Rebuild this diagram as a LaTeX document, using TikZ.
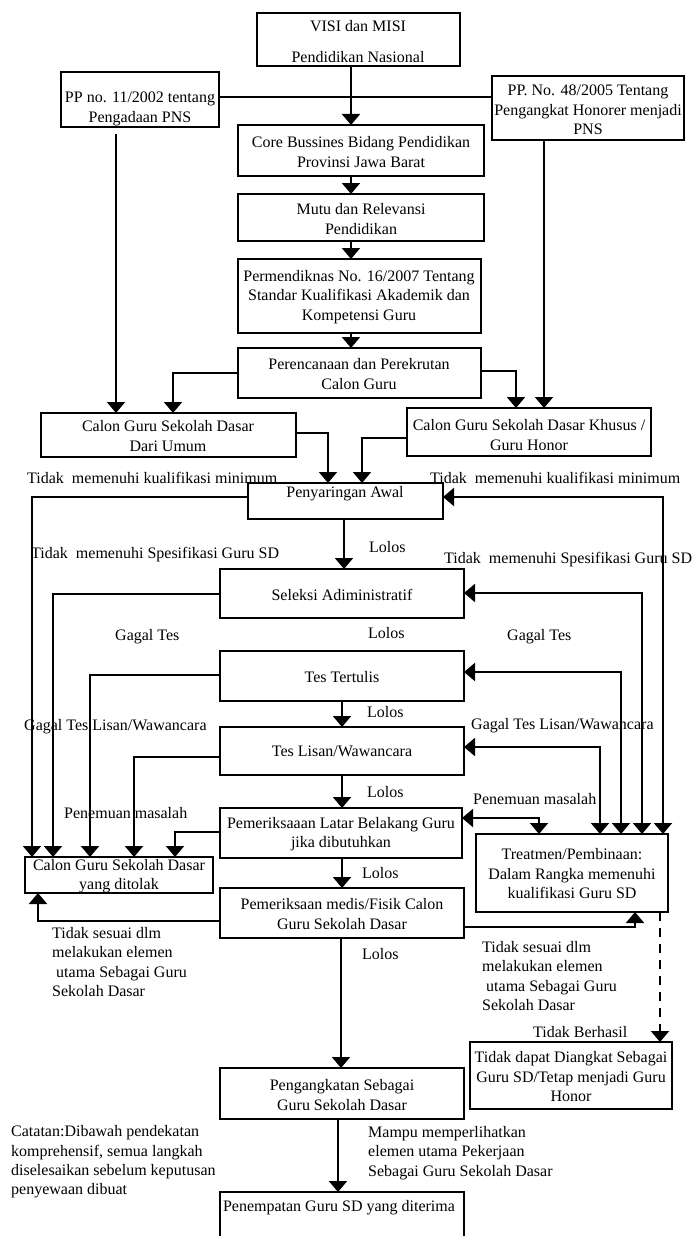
\documentclass[tikz,border=0pt]{standalone}
\usepackage{fontspec}
\setmainfont{Liberation Serif}
\usetikzlibrary{arrows.meta}
\begin{document}
\begin{tikzpicture}[x=1pt,y=-1pt,
  box/.style={draw, line width=2pt, inner sep=0pt, outer sep=0pt, anchor=north west},
  txt/.style={inner sep=0pt, align=center, font=\fontsize{16}{19.5}\selectfont},
  lbl/.style={inner sep=0pt, anchor=west, align=left, font=\fontsize{16}{19.3}\selectfont},
  con/.style={line width=2pt},
  arr/.style={con, -{Triangle[width=18pt,length=11pt]}},
  dbl/.style={con, {Triangle[width=18pt,length=11pt]}-{Triangle[width=18pt,length=11pt]}},
]
\useasboundingbox (0,0) rectangle (691,1236);
\fill[white] (0,0) rectangle (691,1236);
\clip (0,0) rectangle (691,1236);

% boxes
\node[box, minimum width=203pt, minimum height=53pt] (visi) at (257,13) {};
\node[box, minimum width=158pt, minimum height=55pt] (pp11) at (61,72) {};
\node[box, minimum width=192pt, minimum height=64pt] (pp48) at (492,76) {};
\node[box, minimum width=246pt, minimum height=51pt] (core) at (238,125) {};
\node[box, minimum width=246pt, minimum height=47pt] (mutu) at (238,194) {};
\node[box, minimum width=243pt, minimum height=74pt] (perm) at (238,259) {};
\node[box, minimum width=243pt, minimum height=50pt] (peren) at (238,348) {};
\node[box, minimum width=255pt, minimum height=44pt] (umum) at (41,413) {};
\node[box, minimum width=244pt, minimum height=48pt] (khusus) at (407,408) {};
\node[box, minimum width=195pt, minimum height=36pt] (peny) at (248,483) {};
\node[box, minimum width=244pt, minimum height=49pt] (seleksi) at (220,569) {};
\node[box, minimum width=244pt, minimum height=50pt] (tertulis) at (220,651) {};
\node[box, minimum width=244pt, minimum height=48pt] (lisan) at (220,727) {};
\node[box, minimum width=242pt, minimum height=50pt] (latar) at (220,808) {};
\node[box, minimum width=188pt, minimum height=36pt] (rej) at (25,857) {};
\node[box, minimum width=192pt, minimum height=78pt] (treat) at (476,834) {};
\node[box, minimum width=244pt, minimum height=50pt] (medis) at (220,888) {};
\node[box, minimum width=202pt, minimum height=67pt] (gagal) at (470,1042) {};
\node[box, minimum width=244pt, minimum height=51pt] (angkat) at (220,1068) {};
\node[box, minimum width=244pt, minimum height=70pt] (tempat) at (220,1192) {};

% box texts
\node[txt] (visi-t) at (358,42) {VISI dan MISI\\[11.5pt]Pendidikan Nasional};
\node[txt] (pp11-t) at (140,109) {PP no. 11/2002 tentang\\Pengadaan PNS};
\node[txt] (pp48-t) at (588,110) {PP. No. 48/2005 Tentang\\Pengangkat Honorer menjadi\\PNS};
\node[txt] (core-t) at (361,152) {Core Bussines Bidang Pendidikan\\Provinsi Jawa Barat};
\node[txt] (mutu-t) at (361,219) {Mutu dan Relevansi\\Pendidikan};
\node[txt] (perm-t) at (359,297) {Permendiknas No. 16/2007 Tentang\\Standar Kualifikasi Akademik dan\\Kompetensi Guru};
\node[txt] (peren-t) at (359,374) {Perencanaan dan Perekrutan\\Calon Guru};
\node[txt] (umum-t) at (168,436) {Calon Guru Sekolah Dasar\\Dari Umum};
\node[txt] (khusus-t) at (529,435) {Calon Guru Sekolah Dasar Khusus /\\Guru Honor};
\node[txt] (peny-t) at (345,494) {Penyaringan Awal};
\node[txt] (seleksi-t) at (342,595) {Seleksi Adiministratif};
\node[txt] (tertulis-t) at (342,677) {Tes Tertulis};
\node[txt] (lisan-t) at (342,751) {Tes Lisan/Wawancara};
\node[txt] (latar-t) at (341,834) {Pemeriksaaan Latar Belakang Guru\\jika dibutuhkan};
\node[txt] (rej-t) at (119,876) {Calon Guru Sekolah Dasar\\yang ditolak};
\node[txt] (treat-t) at (572,874) {Treatmen/Pembinaan:\\Dalam Rangka memenuhi\\kualifikasi Guru SD};
\node[txt] (medis-t) at (342,914) {Pemeriksaan medis/Fisik Calon\\Guru Sekolah Dasar};
\node[txt] (gagal-t) at (571,1077) {Tidak dapat Diangkat Sebagai\\Guru SD/Tetap menjadi Guru\\Honor};
\node[txt] (angkat-t) at (342,1095) {Pengangkatan Sebagai\\Guru Sekolah Dasar};
\node[txt] (tempat-t) at (339,1208) {Penempatan Guru SD yang diterima};

% helper coordinates
\coordinate (c1) at (351,0);
\coordinate (c2) at (344,0);
\coordinate (c3) at (342,0);
\coordinate (c4) at (341,0);
\coordinate (c5) at (338,0);
\coordinate (h1) at (0,97);
\coordinate (pp11s) at (116,134);
\coordinate (p48x) at (544,0);
\coordinate (k1) at (173,373);
\coordinate (k2) at (516,371);
\coordinate (k3) at (328,433);
\coordinate (k4) at (362,438);
\coordinate (l1) at (32,497);
\coordinate (l2) at (53,594);
\coordinate (l3) at (90,675);
\coordinate (l4) at (134,757);
\coordinate (l5) at (175,832);
\coordinate (l6) at (38,921);
\coordinate (r1) at (663,497);
\coordinate (r2) at (642,593);
\coordinate (r3) at (621,672);
\coordinate (r4) at (600,747);
\coordinate (r5) at (539,818);
\coordinate (r6) at (635,927);
\coordinate (d1) at (660,0);

% main column
\draw[con] (pp11.east |- h1) -- (pp48.west |- h1);
\draw[arr] (visi.south -| c1) -- (core.north -| c1);
\draw[arr] (core.south -| c1) -- (mutu.north -| c1);
\draw[arr] (mutu.south -| c1) -- (perm.north -| c1);
\draw[arr] (perm.south -| c1) -- (peren.north -| c1);
\draw[arr] (pp11s) -- (umum.north -| pp11s);
\draw[arr] (pp48.south -| p48x) -- (khusus.north -| p48x);
\draw[arr] (peren.west |- k1) -| (umum.north -| k1);
\draw[arr] (peren.east |- k2) -| (khusus.north -| k2);
\draw[arr] (umum.east |- k3) -| (peny.north -| k3);
\draw[arr] (khusus.west |- k4) -| (peny.north -| k4);
\draw[arr] (peny.south -| c2) -- (seleksi.north -| c2);
\draw[arr] (tertulis.south -| c3) -- (lisan.north -| c3);
\draw[arr] (lisan.south -| c3) -- (latar.north -| c3);
\draw[arr] (latar.south -| c3) -- (medis.north -| c3);
\draw[arr] (medis.south -| c4) -- (angkat.north -| c4);
\draw[arr] (angkat.south -| c5) -- (tempat.north -| c5);

% rejections (left)
\draw[arr] (peny.west |- l1) -| (rej.north -| l1);
\draw[arr] (seleksi.west |- l2) -| (rej.north -| l2);
\draw[arr] (tertulis.west |- l3) -| (rej.north -| l3);
\draw[arr] (lisan.west |- l4) -| (rej.north -| l4);
\draw[arr] (latar.west |- l5) -| (rej.north -| l5);
\draw[arr] (medis.west |- l6) -| (rej.south -| l6);

% treatment (right)
\draw[dbl] (peny.east |- r1) -| (treat.north -| r1);
\draw[dbl] (seleksi.east |- r2) -| (treat.north -| r2);
\draw[dbl] (tertulis.east |- r3) -| (treat.north -| r3);
\draw[dbl] (lisan.east |- r4) -| (treat.north -| r4);
\draw[dbl] (latar.east |- r5) -| (treat.north -| r5);
\draw[arr] (medis.east |- r6) -| (treat.south -| r6);
\draw[arr, dash pattern=on 9pt off 7pt] (treat.south -| d1) -- (gagal.north -| d1);

% labels
\node[lbl] (t1) at (27,478) {Tidak~~memenuhi kualifikasi minimum};
\node[lbl] (t2) at (430,478) {Tidak~~memenuhi kualifikasi minimum};
\node[lbl] (t3) at (369,547) {Lolos};
\node[lbl] (t4) at (31,555) {Tidak~~memenuhi Spesifikasi Guru SD};
\node[lbl] (t5) at (444,560) {Tidak~~memenuhi Spesifikasi Guru SD};
\node[lbl] (t6) at (368,633) {Lolos};
\node[lbl] (t7) at (115,637) {Gagal Tes};
\node[lbl] (t8) at (507,637) {Gagal Tes};
\node[lbl] (t9) at (367,712) {Lolos};
\node[lbl] (t10) at (24,727) {Gagal Tes Lisan/Wawancara};
\node[lbl] (t11) at (471,726) {Gagal Tes Lisan/Wawancara};
\node[lbl] (t12) at (367,792) {Lolos};
\node[lbl] (t13) at (473,799) {Penemuan masalah};
\node[lbl] (t14) at (64,813) {Penemuan masalah};
\node[lbl] (t15) at (362,873) {Lolos};
\node[lbl] (t16) at (52,962) {Tidak sesuai dlm\\melakukan elemen\\\hspace*{4pt}utama Sebagai Guru\\Sekolah Dasar};
\node[lbl] (t17) at (482,976) {Tidak sesuai dlm\\melakukan elemen\\\hspace*{4pt}utama Sebagai Guru\\Sekolah Dasar};
\node[lbl] (t18) at (362,954) {Lolos};
\node[lbl] (t19) at (533,1032) {Tidak Berhasil};
\node[lbl] (t20) at (11,1162) {Catatan:Dibawah pendekatan\\komprehensif, semua langkah\\diselesaikan sebelum keputusan\\penyewaan dibuat};
\node[lbl] (t21) at (368,1153) {Mampu memperlihatkan\\elemen utama Pekerjaan\\Sebagai Guru Sekolah Dasar};
\end{tikzpicture}
\end{document}
